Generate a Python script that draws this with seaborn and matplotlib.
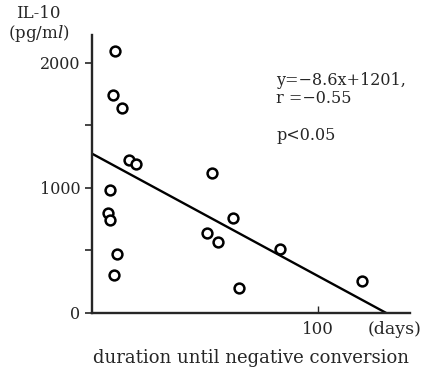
import numpy as np
import pandas as pd
import matplotlib
matplotlib.use("Agg")
import matplotlib.pyplot as plt
import seaborn as sns

# duration until negative conversion (days) vs IL-10 (pg/ml)
days = [10.2, 9.3, 13.3, 16.4, 19.4, 53.0, 8.0, 7.1, 8.0, 62.3, 50.8, 55.7, 83.1, 11.0, 9.7, 65.0, 119.3]
il10 = [2092, 1740, 1636, 1220, 1188, 1116, 980, 796, 745, 756, 636, 564, 508, 468, 300, 196, 252]

# regression line as printed in the figure
line_intercept = 1272
line_slope = -9.8
line_days = [0, 130]

y_ticks = [0, 500, 1000, 1500, 2000]
y_ticklabels = ['0', '', '1000', '', '2000']

df = pd.DataFrame({'days': days, 'il10': il10})

sns.set_style("ticks")
plt.rcParams['font.family'] = ['DejaVu Serif']
plt.rcParams['mathtext.fontset'] = 'custom'
plt.rcParams['mathtext.it'] = 'DejaVu Serif:italic'
plt.rcParams['mathtext.rm'] = 'DejaVu Serif'

fig = plt.figure(figsize=(4.26, 3.70), dpi=100)
ax = fig.add_axes([0.216, 0.155, 0.746, 0.75])

sns.scatterplot(data=df, x='days', y='il10', ax=ax, s=50, marker='o',
                facecolor='white', edgecolor='black', linewidth=1.8, zorder=3)

lx = np.array(line_days)
ax.plot(lx, line_intercept + line_slope * lx, color='black', linewidth=1.7)

ax.set_xlim(0, 140.5)
ax.set_ylim(0, 2220)
ax.set_xticks([100])
ax.set_xticklabels(['100'])
ax.set_yticks(y_ticks)
ax.set_yticklabels(y_ticklabels)
ax.tick_params(axis='y', direction='out', length=5, width=1.2, labelsize=11.5)
ax.tick_params(axis='x', direction='in', length=5, width=1.0, labelsize=12, pad=6)

for side in ['top', 'right']:
    ax.spines[side].set_visible(False)
for side in ['left', 'bottom']:
    ax.spines[side].set_linewidth(1.7)

ax.set_xlabel('duration until negative conversion', fontsize=13, labelpad=8)
ax.set_ylabel('')

ax.text(0.868, -0.03, '(days)', transform=ax.transAxes, fontsize=12.5,
        ha='left', va='top')
ax.text(-0.17, 1.078, 'IL-10', transform=ax.transAxes, fontsize=12,
        ha='center', va='center')
ax.text(-0.168, 1.006, r'(pg/m$\it{l}$)', transform=ax.transAxes, fontsize=12,
        ha='center', va='center')

ax.text(0.58, 0.838, 'y=\u22128.6x+1201,', transform=ax.transAxes, fontsize=11.5,
        ha='left', va='center')
ax.text(0.58, 0.77, 'r =\u22120.55', transform=ax.transAxes, fontsize=11.5,
        ha='left', va='center')
ax.text(0.58, 0.637, 'p<0.05', transform=ax.transAxes, fontsize=11.5,
        ha='left', va='center')

plt.savefig('out.png', dpi=100)
plt.close()
